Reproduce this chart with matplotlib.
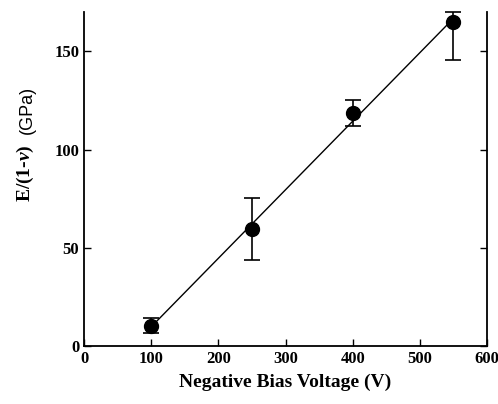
import numpy as np
import matplotlib
matplotlib.use("Agg")
import matplotlib.pyplot as plt

plt.rcParams['font.family'] = ['Liberation Serif', 'DejaVu Serif']
plt.rcParams['mathtext.fontset'] = 'custom'
plt.rcParams['mathtext.rm'] = 'Liberation Serif:bold'
plt.rcParams['mathtext.it'] = 'Liberation Serif:italic:bold'

# Data
voltage = [100, 250, 400, 550]
modulus = [10.2, 59.4, 118.5, 165.0]
err_low = [3.6, 15.7, 6.3, 19.3]
err_high = [3.8, 15.9, 6.5, 5.0]
xticks = [0, 100, 200, 300, 400, 500, 600]
yticks = [0, 50, 100, 150]

fig = plt.figure(figsize=(4.98, 4.04), dpi=100)
ax = fig.add_axes([0.1687, 0.1436, 0.8093, 0.8264])

# linear fit line
coef = np.polyfit(voltage, modulus, 1)
xf = np.array([voltage[0], voltage[-1]])
ax.plot(xf, np.polyval(coef, xf), color='black', lw=1.0, zorder=2)

ax.errorbar(voltage, modulus, yerr=[err_low, err_high], fmt='o', color='black',
            markersize=10, ecolor='black', elinewidth=1.2, capsize=6, capthick=1.2,
            zorder=3, clip_on=False)

ax.set_xlim(0, 600)
ax.set_ylim(0, 170)
ax.set_xticks(xticks)
ax.set_yticks(yticks)
ax.spines['top'].set_visible(False)
for s in ['left', 'bottom', 'right']:
    ax.spines[s].set_linewidth(1.3)
ax.tick_params(direction='in', length=5, width=1.0, labelsize=12, right=True, top=False)
for lab in ax.get_xticklabels() + ax.get_yticklabels():
    lab.set_fontweight('bold')

ax.set_xlabel('Negative Bias Voltage (V)', fontsize=14, fontweight='bold', labelpad=5)
fig.text(0.052, 0.572, r'E/(1-$\mathit{v}$)', rotation=90, ha='center', va='center',
         fontsize=14, fontweight='bold')
fig.text(0.054, 0.728, '(GPa)', rotation=90, ha='center', va='center',
         fontsize=13, family=['Liberation Sans', 'DejaVu Sans'])

fig.savefig('out.png', dpi=100)
